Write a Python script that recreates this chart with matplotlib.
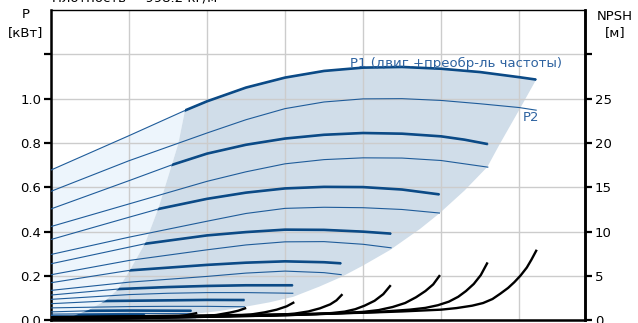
import numpy as np
import matplotlib
matplotlib.use('Agg')
import matplotlib.pyplot as plt
from matplotlib.patches import Polygon

plt.rcParams['font.family'] = ['DejaVu Sans']

# Flow (m3/h) and power (kW) for each speed: P1 = motor + converter, P2 = shaft
q_p1_1 = [0, 0.5, 0.86, 1.0, 1.25, 1.5, 1.75, 2.0, 2.25, 2.5, 2.75, 3.0, 3.11]
p1_1 = [0.678, 0.833, 0.947, 0.988, 1.05, 1.095, 1.125, 1.14, 1.143, 1.135, 1.12, 1.097, 1.086]
q_p2_1 = [0, 0.5, 1.0, 1.25, 1.5, 1.75, 2.0, 2.25, 2.5, 2.75, 3.0, 3.11]
p2_1 = [0.582, 0.72, 0.845, 0.905, 0.955, 0.985, 0.999, 1.0, 0.992, 0.977, 0.96, 0.948]

q_p1_2 = [0, 0.5, 0.77, 1.0, 1.25, 1.5, 1.75, 2.0, 2.25, 2.5, 2.65, 2.8]
p1_2 = [0.5025, 0.63, 0.70, 0.752, 0.792, 0.82, 0.837, 0.845, 0.842, 0.83, 0.815, 0.795]
q_p2_2 = [0, 0.5, 1.0, 1.25, 1.5, 1.75, 2.0, 2.25, 2.5, 2.8]
p2_2 = [0.423, 0.525, 0.627, 0.67, 0.706, 0.725, 0.733, 0.732, 0.721, 0.691]

q_p1_3 = [0, 0.5, 0.69, 1.0, 1.25, 1.5, 1.75, 2.0, 2.25, 2.49]
p1_3 = [0.3645, 0.465, 0.5025, 0.548, 0.576, 0.595, 0.602, 0.601, 0.59, 0.568]
q_p2_3 = [0, 0.5, 1.0, 1.25, 1.5, 1.75, 2.0, 2.25, 2.49]
p2_3 = [0.297, 0.375, 0.447, 0.482, 0.505, 0.51, 0.508, 0.5, 0.484]

q_p1_4 = [0, 0.5, 0.6, 1.0, 1.25, 1.5, 1.75, 2.0, 2.18]
p1_4 = [0.255, 0.33, 0.345, 0.383, 0.398, 0.409, 0.408, 0.40, 0.391]
q_p2_4 = [0, 0.5, 1.0, 1.25, 1.5, 1.75, 2.0, 2.18]
p2_4 = [0.2055, 0.27, 0.318, 0.34, 0.354, 0.355, 0.343, 0.327]

q_p1_5 = [0, 0.5, 1.0, 1.25, 1.5, 1.75, 1.86]
p1_5 = [0.1695, 0.225, 0.25, 0.26, 0.266, 0.262, 0.257]
q_p2_5 = [0, 0.5, 1.0, 1.25, 1.5, 1.75, 1.86]
p2_5 = [0.135, 0.172, 0.198, 0.213, 0.222, 0.215, 0.206]

q_p1_6 = [0, 0.43, 0.75, 1.0, 1.25, 1.55]
p1_6 = [0.114, 0.141, 0.15, 0.155, 0.158, 0.158]
q_p2_6 = [0, 0.5, 0.75, 1.0, 1.25, 1.55]
p2_6 = [0.0945, 0.116, 0.122, 0.125, 0.125, 0.122]

q_p1_7 = [0, 0.35, 0.75, 1.0, 1.24]
p1_7 = [0.075, 0.087, 0.09, 0.092, 0.0915]
q_p2_7 = [0, 0.5, 0.75, 1.0, 1.24]
p2_7 = [0.056, 0.062, 0.063, 0.063, 0.061]

q_p1_8 = [0, 0.25, 0.5, 0.9]
p1_8 = [0.038, 0.043, 0.044, 0.043]
q_p2_8 = [0, 0.5, 0.9]
p2_8 = [0.028, 0.031, 0.03]

q_p1_9 = [0, 0.6]
p1_9 = [0.022, 0.025]
q_p2_9 = [0, 0.6]
p2_9 = [0.015, 0.016]

# NPSH (m) for each speed
q_npsh_1 = [0, 0.5, 1.0, 1.5, 2.0, 2.25, 2.5, 2.6, 2.7, 2.77, 2.83, 2.88, 2.93, 2.97, 3.01, 3.05, 3.08, 3.11]
npsh_1 = [0.35, 0.45, 0.55, 0.68, 0.85, 1.0, 1.2, 1.38, 1.65, 1.95, 2.4, 3.0, 3.65, 4.3, 5.05, 5.95, 6.85, 7.84]
q_npsh_2 = [0, 0.5, 1.0, 1.5, 1.8, 2.1, 2.3, 2.4, 2.48, 2.55, 2.61, 2.66, 2.71, 2.755, 2.795]
npsh_2 = [0.33, 0.42, 0.5, 0.62, 0.75, 0.95, 1.2, 1.4, 1.7, 2.1, 2.65, 3.3, 4.1, 5.1, 6.41]
q_npsh_3 = [0, 0.5, 1.0, 1.5, 1.8, 2.0, 2.1, 2.19, 2.27, 2.34, 2.4, 2.45, 2.489]
npsh_3 = [0.3, 0.38, 0.45, 0.57, 0.75, 0.95, 1.15, 1.5, 1.95, 2.6, 3.3, 4.05, 4.99]
q_npsh_4 = [0, 0.5, 1.0, 1.4, 1.7, 1.8, 1.883, 1.95, 2.01, 2.074, 2.13, 2.173]
npsh_4 = [0.28, 0.35, 0.42, 0.52, 0.7, 0.82, 0.98, 1.25, 1.65, 2.2, 2.95, 3.86]
q_npsh_5 = [0, 0.5, 1.0, 1.3, 1.45, 1.56, 1.65, 1.724, 1.79, 1.83, 1.863]
npsh_5 = [0.25, 0.32, 0.4, 0.5, 0.6, 0.75, 1.0, 1.35, 1.8, 2.25, 2.85]
q_npsh_6 = [0, 0.5, 0.9, 1.15, 1.28, 1.37, 1.447, 1.511, 1.553]
npsh_6 = [0.22, 0.28, 0.35, 0.48, 0.65, 0.9, 1.2, 1.58, 1.98]
q_npsh_7 = [0, 0.5, 0.8, 0.95, 1.06, 1.15, 1.2, 1.244]
npsh_7 = [0.2, 0.25, 0.32, 0.42, 0.6, 0.88, 1.08, 1.35]
q_npsh_8 = [0, 0.5, 0.7, 0.8, 0.87, 0.93]
npsh_8 = [0.18, 0.22, 0.3, 0.42, 0.58, 0.8]
q_npsh_9 = [0, 0.4, 0.62]
npsh_9 = [0.15, 0.2, 0.35]

# operating range outline: left limit (bottom to top) and right limit (top to bottom)
q_left = [0.1, 0.133, 0.239, 0.346, 0.431, 0.506, 0.603, 0.688, 0.774, 0.816, 0.859]
p_left = [0.0, 0.016, 0.046, 0.087, 0.141, 0.2266, 0.347, 0.5045, 0.70, 0.797, 0.947]
q_right = [3.006, 2.878, 2.797, 2.65, 2.489, 2.365, 2.173, 2.0, 1.863, 1.72, 1.553, 1.4, 1.244, 1.08, 0.93]
p_right = [0.955, 0.797, 0.692, 0.585, 0.482, 0.412, 0.317, 0.247, 0.196, 0.152, 0.106, 0.081, 0.061, 0.042, 0.03]

p1_curves = [(q_p1_1, p1_1), (q_p1_2, p1_2), (q_p1_3, p1_3), (q_p1_4, p1_4), (q_p1_5, p1_5),
             (q_p1_6, p1_6), (q_p1_7, p1_7), (q_p1_8, p1_8), (q_p1_9, p1_9)]
p2_curves = [(q_p2_1, p2_1), (q_p2_2, p2_2), (q_p2_3, p2_3), (q_p2_4, p2_4), (q_p2_5, p2_5),
             (q_p2_6, p2_6), (q_p2_7, p2_7), (q_p2_8, p2_8), (q_p2_9, p2_9)]
npsh_curves = [(q_npsh_1, npsh_1), (q_npsh_2, npsh_2), (q_npsh_3, npsh_3), (q_npsh_4, npsh_4),
               (q_npsh_5, npsh_5), (q_npsh_6, npsh_6), (q_npsh_7, npsh_7), (q_npsh_8, npsh_8),
               (q_npsh_9, npsh_9)]

W, H = 638, 323
fig = plt.figure(figsize=(W / 100, H / 100), dpi=100)
ax = fig.add_axes([51 / W, 1 - 320.3 / H, (585 - 51) / W, (320.3 - 10) / H])

thin_blue = '#1f5c9a'
thick_blue = '#0b4a86'

# shaded areas
top_pts = [(q, p) for q, p in zip(q_p1_1, p1_1)]
light = [(0, 0)] + [pt for pt in top_pts if pt[0] <= 0.86] + list(zip(q_left[::-1], p_left[::-1]))
ax.add_patch(Polygon(light, closed=True, fc='#edf5fc', ec='none', zorder=1))
dark = (list(zip(q_left, p_left)) + [pt for pt in top_pts if pt[0] > 0.86]
        + list(zip(q_right, p_right)) + [(0.93, 0.0)])
ax.add_patch(Polygon(dark, closed=True, fc='#d0dde9', ec='none', zorder=1))

# region used to thicken P1 inside the operating range
clip_region = Polygon(list(zip(q_left, p_left)) + [(0.9, 1.6), (4, 1.6), (4, 0)],
                      closed=True, transform=ax.transData, fill=False, visible=False)
ax.add_patch(clip_region)

for q, p in p2_curves:
    ax.plot(q, p, color=thin_blue, lw=0.8, zorder=3)
for q, p in p1_curves:
    ax.plot(q, p, color=thin_blue, lw=0.8, zorder=3)
    thick, = ax.plot(q, p, color=thick_blue, lw=1.9, zorder=4, solid_capstyle='butt')
    thick.set_clip_path(clip_region)

ax.set_xlim(0, 3.423)
ax.set_ylim(0, 1.4)
ax.set_xticks(np.arange(0, 3.01, 0.5))
ax.set_xticklabels([])
ax.tick_params(axis='x', length=0)
ax.set_yticks(np.arange(0, 1.21, 0.2))
ax.set_yticklabels(['0.0', '0.2', '0.4', '0.6', '0.8', '1.0', ''])
ax.tick_params(axis='y', direction='out', length=5, width=1.6, labelsize=9.5, pad=2)
ax.grid(color='#cccccc', lw=1.0)
for side in ['left', 'bottom', 'right']:
    ax.spines[side].set_linewidth(1.8)
ax.spines['top'].set_linewidth(1.0)

ax.text(1.917, 1.159, 'P1 (двиг.+преобр-ль частоты)', color='#2d62a0', fontsize=9.5,
        va='center', ha='left', zorder=5)
ax.text(3.026, 0.916, 'P2', color='#2d62a0', fontsize=9.5, va='center', ha='left', zorder=5)

# NPSH on the right axis
ax2 = ax.twinx()
for q, n in npsh_curves:
    ax2.plot(q, n, color='black', lw=1.7, solid_joinstyle='round')
ax2.set_ylim(0, 35)
ax2.set_yticks(range(0, 31, 5))
ax2.set_yticklabels(['0', '5', '10', '15', '20', '25', ''])
ax2.tick_params(axis='y', direction='out', length=5, width=1.6, labelsize=9.5, pad=2)
for side in ['left', 'bottom', 'top']:
    ax2.spines[side].set_visible(False)
ax2.spines['right'].set_linewidth(1.8)

fig.text(26 / W, 1 - 15 / H, 'P', ha='center', va='center', fontsize=9.5)
fig.text(26 / W, 1 - 33 / H, '[кВт]', ha='center', va='center', fontsize=9.5)
fig.text(615 / W, 1 - 17 / H, 'NPSH', ha='center', va='center', fontsize=9.5)
fig.text(615 / W, 1 - 33 / H, '[м]', ha='center', va='center', fontsize=9.5)
fig.text(52 / W, 1 - 1.8 / H, 'Плотность = 998.2 кг/м³', ha='left', va='baseline', fontsize=9.5)

fig.savefig('out.png', dpi=100)
